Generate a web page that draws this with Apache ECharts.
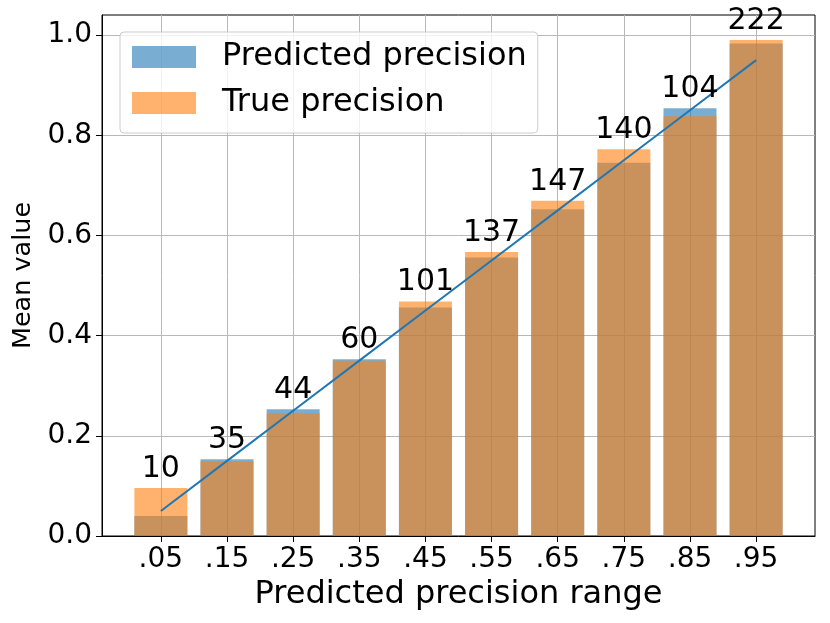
<!DOCTYPE html>
<html>
<head>
<meta charset="utf-8">
<script src="https://cdn.jsdelivr.net/npm/echarts@6/dist/echarts.min.js"></script>
<style>
html,body{margin:0;padding:0;background:#fff;}
#main{width:830px;height:623px;}
</style>
</head>
<body>
<div id="main"></div>
<script>
const categories = ['.05', '.15', '.25', '.35', '.45', '.55', '.65', '.75', '.85', '.95'];
const binCenters = [0.05, 0.15, 0.25, 0.35, 0.45, 0.55, 0.65, 0.75, 0.85, 0.95];
const predicted = [0.040, 0.153, 0.253, 0.353, 0.456, 0.556, 0.652, 0.745, 0.854, 0.983];
const truePrecision = [0.096, 0.149, 0.245, 0.350, 0.468, 0.567, 0.669, 0.772, 0.838, 0.990];
const counts = [10, 35, 44, 60, 101, 137, 147, 140, 104, 222];
const yTicks = [0, 0.2, 0.4, 0.6, 0.8, 1.0];

const idx = categories.map((c, i) => i);
const FONT = 'DejaVu Sans';

const chart = echarts.init(document.getElementById('main'), null, {renderer: 'canvas'});
chart.setOption({
  animation: false,
  backgroundColor: '#fff',
  textStyle: {fontFamily: FONT},
  grid: {left: 102, right: 15, top: 15, bottom: 87, show: true, borderColor: '#000', borderWidth: 1, backgroundColor: 'transparent'},
  legend: {
    orient: 'vertical', left: 120, top: 32,
    padding: [9, 11, 14, 12],
    itemWidth: 64, itemHeight: 22, itemGap: 14,
    backgroundColor: 'rgba(255,255,255,0.8)', borderColor: '#cccccc', borderWidth: 1, borderRadius: 4,
    icon: 'rect',
    textStyle: {fontFamily: FONT, fontSize: 32, color: '#000', lineHeight: 32, padding: [0, 0, 0, 21]},
    data: [
      {name: 'Predicted precision', itemStyle: {color: '#1f77b4', opacity: 0.6}},
      {name: 'True precision', itemStyle: {color: '#ff7f0e', opacity: 0.6}}
    ]
  },
  xAxis: {
    type: 'value', min: -0.89, max: 9.89,
    axisLine: {show: true, onZero: false, lineStyle: {color: '#000', width: 1}},
    axisTick: {show: true, customValues: idx, length: 6, inside: false, lineStyle: {color: '#000'}},
    axisLabel: {customValues: idx, formatter: v => categories[Math.round(v)], fontSize: 28, color: '#000', margin: 10, fontFamily: FONT},
    splitLine: {show: true, lineStyle: {color: '#b8b8b8', width: 1}},
    name: 'Predicted precision range', nameLocation: 'middle', nameGap: 36,
    nameTextStyle: {fontSize: 32, color: '#000', fontFamily: FONT, lineHeight: 32}
  },
  yAxis: {
    type: 'value', min: 0, max: 1.04,
    axisLine: {show: true, onZero: false, lineStyle: {color: '#000', width: 1}},
    axisTick: {show: true, customValues: yTicks, length: 6, inside: false, lineStyle: {color: '#000'}},
    axisLabel: {customValues: yTicks, formatter: v => v.toFixed(1), fontSize: 28, color: '#000', margin: 10, fontFamily: FONT},
    splitLine: {show: true, lineStyle: {color: '#b8b8b8', width: 1}},
    name: 'Mean value', nameLocation: 'middle', nameRotate: 90, nameGap: 56,
    nameTextStyle: {fontSize: 25.5, color: '#000', fontFamily: FONT}
  },
  series: [
    {
      name: 'Predicted precision', type: 'bar', barWidth: 53, barGap: '-100%',
      itemStyle: {color: '#1f77b4', opacity: 0.6},
      data: predicted.map((v, i) => [i, v]), z: 2
    },
    {
      name: 'True precision', type: 'bar', barWidth: 53, barGap: '-100%',
      itemStyle: {color: '#ff7f0e', opacity: 0.6},
      data: truePrecision.map((v, i) => [i, v]), z: 3
    },
    {
      name: 'diag', type: 'line', symbol: 'none', silent: true,
      lineStyle: {color: '#1f77b4', width: 2}, itemStyle: {color: '#1f77b4'},
      data: binCenters.map((v, i) => [i, v]), z: 4
    },
    {
      name: 'counts', type: 'scatter', symbolSize: 0, silent: true,
      itemStyle: {opacity: 1, color: '#000'},
      data: counts.map((c, i) => [i, Math.max(predicted[i], truePrecision[i]), c]),
      label: {show: true, position: 'top', distance: 4, formatter: p => String(p.data[2]), fontSize: 30, color: '#000', opacity: 1, fontFamily: FONT, lineHeight: 30},
      z: 5
    }
  ]
});
</script>
</body>
</html>
